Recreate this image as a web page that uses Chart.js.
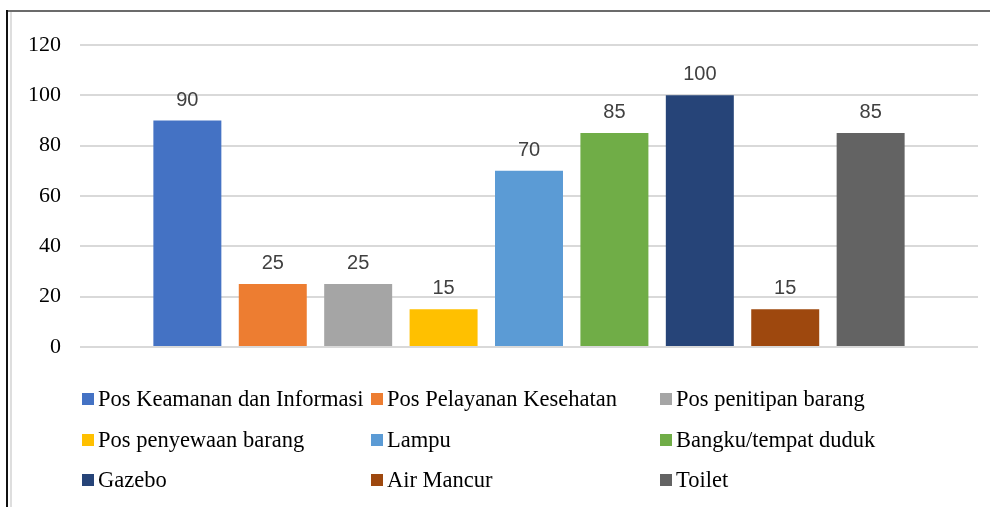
<!DOCTYPE html>
<html>
<head>
<meta charset="utf-8">
<script src="https://cdn.jsdelivr.net/npm/chart.js@4"></script>
<style>
    html, body { margin: 0; padding: 0; background: #fff; }
    #wrap { position: relative; width: 990px; height: 507px; overflow: hidden; }
    #chart { position: absolute; left: 0; top: 0; }
    .frame-top { position: absolute; left: 7px; top: 10px; width: 983px; height: 2px; background: #6b6b6b; }
    .frame-left { position: absolute; left: 6px; top: 10px; width: 2px; height: 497px; background: #111; }
    .frame-inner { position: absolute; left: 10px; top: 12px; width: 2px; height: 495px; background: #dedede; }
    #legend { position: absolute; left: 82px; top: 386px; display: grid;
        grid-template-columns: 289px 289px 289px; grid-auto-rows: 40.5px;
        font-family: "Liberation Serif", "Times New Roman", serif; font-size: 22.5px; color: #000; }
    .item { display: flex; align-items: center; white-space: nowrap; height: 26px; }
    .box { width: 12px; height: 12px; margin-right: 4px; flex: none; }
</style>
</head>
<body>
<div id="wrap">
    <canvas id="chart" width="990" height="507"></canvas>
    <div class="frame-top"></div>
    <div class="frame-left"></div>
    <div class="frame-inner"></div>
    <div id="legend"></div>
</div>
<script>
// Data
const seriesNames = [
    'Pos Keamanan dan Informasi',
    'Pos Pelayanan Kesehatan',
    'Pos penitipan barang',
    'Pos penyewaan barang',
    'Lampu',
    'Bangku/tempat duduk',
    'Gazebo',
    'Air Mancur',
    'Toilet'
];
const seriesValues = [90, 25, 25, 15, 70, 85, 100, 15, 85];
const seriesColors = ['#4472c4', '#ed7d31', '#a5a5a5', '#ffc000', '#5b9bd5', '#70ad47', '#264478', '#9e480e', '#636363'];
const yTicks = [0, 20, 40, 60, 80, 100, 120];

// Draw the value above each bar
const valueLabels = {
    id: 'valueLabels',
    afterDatasetsDraw(chart) {
        const ctx = chart.ctx;
        ctx.save();
        ctx.font = '20px "Liberation Sans", Arial, sans-serif';
        ctx.fillStyle = '#404040';
        ctx.textAlign = 'center';
        ctx.textBaseline = 'alphabetic';
        chart.data.datasets.forEach((ds, i) => {
            const meta = chart.getDatasetMeta(i);
            meta.data.forEach((bar, j) => {
                ctx.fillText(String(ds.data[j]), bar.x, bar.y - 15);
            });
        });
        ctx.restore();
    }
};

const datasets = seriesNames.map((name, i) => ({
    label: name,
    data: [seriesValues[i]],
    backgroundColor: seriesColors[i],
    borderWidth: 0,
    categoryPercentage: 0.856,
    barPercentage: 0.796
}));

new Chart(document.getElementById('chart'), {
    type: 'bar',
    data: {
        labels: [''],
        datasets: datasets
    },
    options: {
        responsive: false,
        animation: false,
        layout: {
            padding: { left: 0, right: 12, top: 45, bottom: 160 }
        },
        plugins: {
            legend: { display: false },
            title: { display: false },
            tooltip: { enabled: false }
        },
        scales: {
            x: {
                display: false
            },
            y: {
                min: yTicks[0],
                max: yTicks[yTicks.length - 1],
                afterBuildTicks: (scale) => {
                    scale.ticks = yTicks.map(v => ({ value: v }));
                },
                afterFit: (scale) => {
                    scale.width = 80;
                },
                border: { display: false },
                grid: {
                    color: '#d9d9d9',
                    lineWidth: 2,
                    drawTicks: false
                },
                ticks: {
                    padding: 19,
                    color: '#000',
                    font: {
                        family: '"Liberation Serif", "Times New Roman", serif',
                        size: 22
                    }
                }
            }
        }
    },
    plugins: [valueLabels]
});

// HTML legend, three columns like the original
const legend = document.getElementById('legend');
seriesNames.forEach((name, i) => {
    const item = document.createElement('div');
    item.className = 'item';
    const box = document.createElement('span');
    box.className = 'box';
    box.style.background = seriesColors[i];
    const text = document.createElement('span');
    text.textContent = name;
    item.appendChild(box);
    item.appendChild(text);
    legend.appendChild(item);
});
</script>
</body>
</html>
